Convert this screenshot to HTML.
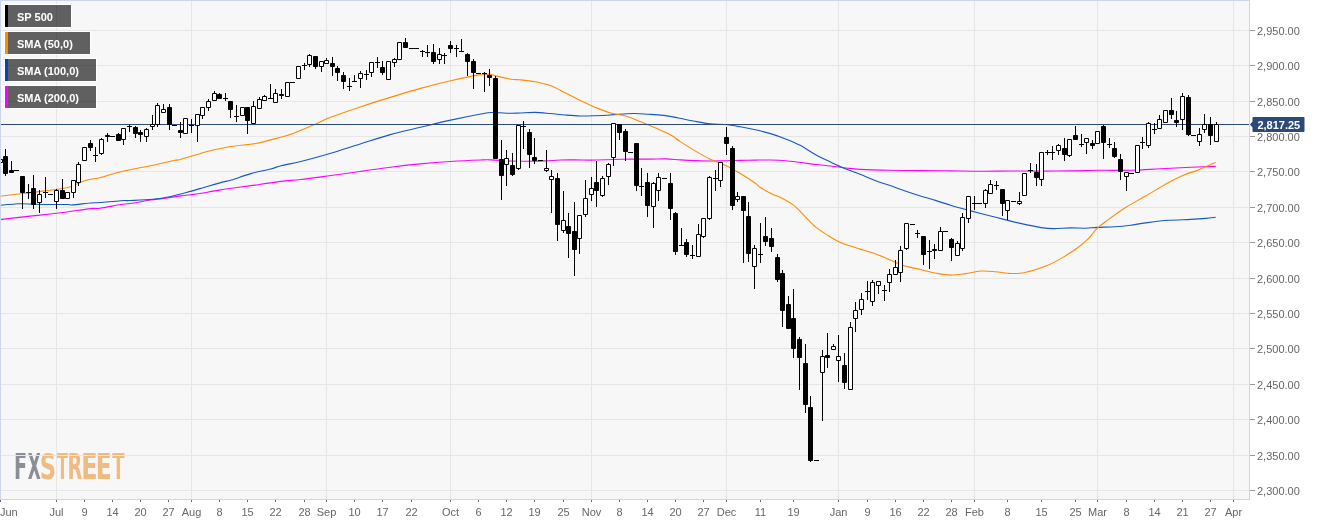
<!DOCTYPE html><html><head><meta charset="utf-8"><style>
html,body{margin:0;padding:0;background:#fff;width:1326px;height:525px;overflow:hidden}
svg{display:block;will-change:transform;font-family:"Liberation Sans",Arial,sans-serif}
</style></head><body>
<svg width="1326" height="525" viewBox="0 0 1326 525">
<rect x="0" y="0" width="1250" height="500" fill="#f7f7f7"/>
<g font-family="DejaVu Sans" font-stretch="condensed" font-weight="bold" font-size="35.5">
<text transform="translate(13.90 479.1) scale(0.600 1)" fill="#8b8e96">F</text>
<text transform="translate(27.72 479.1) scale(0.529 1)" fill="#8b8e96">X</text>
<text transform="translate(39.69 479.1) scale(0.710 1)" fill="#efbb80">S</text>
<text transform="translate(57.10 479.1) scale(0.499 1)" fill="#efbb80">T</text>
<text transform="translate(67.59 479.1) scale(0.602 1)" fill="#efbb80">R</text>
<text transform="translate(81.37 479.1) scale(0.749 1)" fill="#efbb80">E</text>
<text transform="translate(95.72 479.1) scale(0.731 1)" fill="#efbb80">E</text>
<text transform="translate(112.30 479.1) scale(0.563 1)" fill="#efbb80">T</text>
</g>
<path d="M0 490.5H1249M0 455.5H1249M0 419.5H1249M0 384.5H1249M0 348.5H1249M0 313.5H1249M0 278.5H1249M0 242.5H1249M0 207.5H1249M0 171.5H1249M0 136.5H1249M0 101.5H1249M0 65.5H1249M0 30.5H1249M56.5 0V499M191.5 0V499M326.5 0V499M450.5 0V499M591.5 0V499M726.5 0V499M838.5 0V499M974.5 0V499M1097.5 0V499M1233.5 0V499" stroke="#e6e6e6" stroke-width="1" fill="none"/>
<path d="M0.00 219.60 C5.03 219.02 20.15 217.23 30.20 216.10 C40.25 214.97 50.25 214.05 60.30 212.80 C70.35 211.55 83.88 209.35 90.50 208.60 C97.12 207.85 94.97 208.98 100.00 208.30 C105.03 207.62 115.67 205.30 120.70 204.50 C125.73 203.70 125.18 204.25 130.20 203.50 C135.22 202.75 145.78 200.77 150.80 200.00 C155.82 199.23 155.27 199.58 160.30 198.90 C165.33 198.22 175.97 196.60 181.00 195.90 C186.03 195.20 187.33 195.10 190.50 194.70 C193.67 194.30 194.97 194.30 200.00 193.50 C205.03 192.70 212.23 191.22 220.70 189.90 C229.17 188.58 240.75 187.02 250.80 185.60 C260.85 184.18 272.67 182.42 281.00 181.40 C289.33 180.38 292.47 180.48 300.80 179.50 C309.13 178.52 321.10 176.83 331.00 175.50 C340.90 174.17 350.32 172.88 360.20 171.50 C370.08 170.12 380.25 168.47 390.30 167.20 C400.35 165.93 410.43 164.85 420.50 163.90 C430.57 162.95 440.65 162.15 450.70 161.50 C460.75 160.85 474.02 160.27 480.80 160.00 C487.58 159.73 486.37 159.73 491.40 159.90 C496.43 160.07 504.53 160.78 511.00 161.00 C517.47 161.22 524.50 161.22 530.20 161.20 C535.90 161.18 540.18 161.10 545.20 160.90 C550.22 160.70 555.27 160.17 560.30 160.00 C565.33 159.83 570.37 159.88 575.40 159.90 C580.43 159.92 585.47 160.12 590.50 160.10 C595.53 160.08 600.57 159.95 605.60 159.80 C610.63 159.65 615.68 159.32 620.70 159.20 C625.72 159.08 630.68 159.12 635.70 159.10 C640.72 159.08 645.77 159.13 650.80 159.10 C655.83 159.07 660.95 158.77 665.90 158.90 C670.85 159.03 675.63 159.62 680.50 159.90 C685.37 160.18 690.15 160.42 695.10 160.60 C700.05 160.78 705.18 160.98 710.20 161.00 C715.22 161.02 720.18 160.80 725.20 160.70 C730.22 160.60 735.27 160.50 740.30 160.40 C745.33 160.30 750.37 160.17 755.40 160.10 C760.43 160.03 765.47 159.90 770.50 160.00 C775.53 160.10 780.57 160.28 785.60 160.70 C790.63 161.12 795.68 161.87 800.70 162.50 C805.72 163.13 810.68 163.92 815.70 164.50 C820.72 165.08 825.77 165.42 830.80 166.00 C835.83 166.58 841.03 167.43 845.90 168.00 C850.77 168.57 852.62 169.02 860.00 169.40 C867.38 169.78 880.15 170.10 890.20 170.30 C900.25 170.50 910.25 170.50 920.30 170.60 C930.35 170.70 940.43 170.78 950.50 170.90 C960.57 171.02 970.65 171.28 980.70 171.30 C990.75 171.32 1000.75 171.03 1010.80 171.00 C1020.85 170.97 1031.10 171.12 1041.00 171.10 C1050.90 171.08 1060.32 171.03 1070.20 170.90 C1080.08 170.77 1090.25 170.40 1100.30 170.30 C1110.35 170.20 1120.43 170.55 1130.50 170.30 C1140.57 170.05 1150.65 169.30 1160.70 168.80 C1170.75 168.30 1181.63 167.70 1190.80 167.30 C1199.97 166.90 1211.55 166.55 1215.70 166.40" stroke="#ff00ff" stroke-width="1.1" fill="none" stroke-linejoin="round"/>
<path d="M0.00 205.20 C2.52 205.00 11.33 204.25 15.10 204.00 C18.87 203.75 17.58 203.62 22.60 203.70 C27.62 203.78 37.65 204.37 45.20 204.50 C52.75 204.63 63.37 204.43 67.90 204.50 C72.43 204.57 68.63 205.15 72.40 204.90 C76.17 204.65 85.90 203.40 90.50 203.00 C95.10 202.60 94.97 202.88 100.00 202.50 C105.03 202.12 115.67 201.03 120.70 200.70 C125.73 200.37 124.85 200.73 130.20 200.50 C135.55 200.27 146.02 199.97 152.80 199.30 C159.58 198.63 164.62 197.82 170.90 196.50 C177.18 195.18 185.65 192.72 190.50 191.40 C195.35 190.08 194.97 190.07 200.00 188.60 C205.03 187.13 215.47 184.03 220.70 182.60 C225.93 181.17 226.38 181.50 231.40 180.00 C236.42 178.50 244.25 175.43 250.80 173.60 C257.35 171.77 265.67 170.32 270.70 169.00 C275.73 167.68 275.98 166.95 281.00 165.70 C286.02 164.45 292.63 163.53 300.80 161.50 C308.97 159.47 320.10 156.43 330.00 153.50 C339.90 150.57 350.15 147.05 360.20 143.90 C370.25 140.75 380.25 137.38 390.30 134.60 C400.35 131.82 410.43 129.62 420.50 127.20 C430.57 124.78 440.65 122.30 450.70 120.10 C460.75 117.90 474.02 115.27 480.80 114.00 C487.58 112.73 486.37 112.62 491.40 112.50 C496.43 112.38 506.23 113.22 511.00 113.30 C515.77 113.38 515.98 113.15 520.00 113.00 C524.02 112.85 530.07 112.32 535.10 112.40 C540.13 112.48 545.18 113.07 550.20 113.50 C555.22 113.93 560.18 114.58 565.20 115.00 C570.22 115.42 575.27 115.88 580.30 116.00 C585.33 116.12 590.37 115.87 595.40 115.70 C600.43 115.53 604.22 115.37 610.50 115.00 C616.78 114.63 626.82 113.63 633.10 113.50 C639.38 113.37 643.17 113.88 648.20 114.20 C653.23 114.52 658.27 114.77 663.30 115.40 C668.33 116.03 673.37 117.07 678.40 118.00 C683.43 118.93 688.20 120.03 693.50 121.00 C698.80 121.97 704.92 123.22 710.20 123.80 C715.48 124.38 720.18 124.00 725.20 124.50 C730.22 125.00 735.27 125.92 740.30 126.80 C745.33 127.68 750.37 128.67 755.40 129.80 C760.43 130.93 765.47 132.08 770.50 133.60 C775.53 135.12 780.57 136.90 785.60 138.90 C790.63 140.90 795.68 142.97 800.70 145.60 C805.72 148.23 810.68 151.93 815.70 154.70 C820.72 157.47 825.77 159.82 830.80 162.20 C835.83 164.58 841.03 166.98 845.90 169.00 C850.77 171.02 855.13 172.40 860.00 174.30 C864.87 176.20 870.07 178.52 875.10 180.40 C880.13 182.28 885.18 183.85 890.20 185.60 C895.22 187.35 900.18 189.18 905.20 190.90 C910.22 192.62 915.27 194.32 920.30 195.90 C925.33 197.48 930.37 198.85 935.40 200.40 C940.43 201.95 945.47 203.68 950.50 205.20 C955.53 206.72 960.57 208.12 965.60 209.50 C970.63 210.88 975.68 212.20 980.70 213.50 C985.72 214.80 990.68 216.03 995.70 217.30 C1000.72 218.57 1005.77 219.88 1010.80 221.10 C1015.83 222.32 1020.87 223.52 1025.90 224.60 C1030.93 225.68 1036.38 226.93 1041.00 227.60 C1045.62 228.27 1048.73 228.55 1053.60 228.60 C1058.47 228.65 1064.93 227.97 1070.20 227.90 C1075.47 227.83 1080.68 228.28 1085.20 228.20 C1089.72 228.12 1092.27 227.65 1097.30 227.40 C1102.33 227.15 1109.87 227.07 1115.40 226.70 C1120.93 226.33 1125.47 225.83 1130.50 225.20 C1135.53 224.57 1139.32 223.72 1145.60 222.90 C1151.88 222.08 1160.67 220.88 1168.20 220.30 C1175.73 219.72 1184.52 219.72 1190.80 219.40 C1197.08 219.08 1201.75 218.75 1205.90 218.40 C1210.05 218.05 1214.07 217.48 1215.70 217.30" stroke="#1558bf" stroke-width="1.1" fill="none" stroke-linejoin="round"/>
<path d="M0.00 196.20 C3.77 195.75 15.07 194.38 22.60 193.50 C30.13 192.62 37.65 191.90 45.20 190.90 C52.75 189.90 62.12 188.88 67.90 187.50 C73.68 186.12 76.13 183.97 79.90 182.60 C83.67 181.23 87.15 180.10 90.50 179.30 C93.85 178.50 94.97 179.05 100.00 177.80 C105.03 176.55 112.30 173.82 120.70 171.80 C129.10 169.78 141.35 167.63 150.40 165.70 C159.45 163.77 170.03 161.23 175.00 160.20 C179.97 159.17 174.32 161.08 180.20 159.50 C186.08 157.92 201.50 152.92 210.30 150.70 C219.10 148.48 225.45 147.40 233.00 146.20 C240.55 145.00 248.07 144.88 255.60 143.50 C263.13 142.12 271.92 139.58 278.20 137.90 C284.48 136.22 287.02 135.73 293.30 133.40 C299.58 131.07 309.78 126.55 315.90 123.90 C322.02 121.25 322.62 120.33 330.00 117.50 C337.38 114.67 350.15 110.25 360.20 106.90 C370.25 103.55 380.25 100.48 390.30 97.40 C400.35 94.32 410.43 91.17 420.50 88.40 C430.57 85.63 441.90 82.88 450.70 80.80 C459.50 78.72 468.28 76.90 473.30 75.90 C478.32 74.90 478.03 75.05 480.80 74.80 C483.57 74.55 487.38 74.22 489.90 74.40 C492.42 74.58 492.38 75.08 495.90 75.90 C499.42 76.72 506.98 78.65 511.00 79.30 C515.02 79.95 515.98 79.38 520.00 79.80 C524.02 80.22 530.07 80.83 535.10 81.80 C540.13 82.77 545.18 83.77 550.20 85.60 C555.22 87.43 560.18 90.30 565.20 92.80 C570.22 95.30 575.27 98.17 580.30 100.60 C585.33 103.03 590.37 105.33 595.40 107.40 C600.43 109.47 605.47 111.57 610.50 113.00 C615.53 114.43 620.57 114.53 625.60 116.00 C630.63 117.47 635.68 119.78 640.70 121.80 C645.72 123.82 650.68 125.90 655.70 128.10 C660.72 130.30 666.75 132.78 670.80 135.00 C674.85 137.22 675.95 138.75 680.00 141.40 C684.05 144.05 690.07 147.93 695.10 150.90 C700.13 153.87 705.18 156.82 710.20 159.20 C715.22 161.58 720.18 162.82 725.20 165.20 C730.22 167.58 735.27 170.48 740.30 173.50 C745.33 176.52 752.12 181.00 755.40 183.30 C758.68 185.60 757.22 185.52 760.00 187.30 C762.78 189.08 768.33 192.12 772.10 194.00 C775.87 195.88 778.83 196.58 782.60 198.60 C786.37 200.62 790.93 203.08 794.70 206.10 C798.47 209.12 801.68 213.18 805.20 216.70 C808.72 220.22 812.02 224.07 815.80 227.20 C819.58 230.33 823.88 232.98 827.90 235.50 C831.92 238.02 836.13 240.53 839.90 242.30 C843.67 244.07 847.15 244.97 850.50 246.10 C853.85 247.23 855.90 247.83 860.00 249.10 C864.10 250.37 870.07 251.88 875.10 253.70 C880.13 255.52 885.18 257.95 890.20 260.00 C895.22 262.05 900.18 264.42 905.20 266.00 C910.22 267.58 915.27 268.33 920.30 269.50 C925.33 270.67 930.37 272.07 935.40 273.00 C940.43 273.93 945.47 275.00 950.50 275.10 C955.53 275.20 960.57 274.28 965.60 273.60 C970.63 272.92 975.68 271.30 980.70 271.00 C985.72 270.70 991.18 271.42 995.70 271.80 C1000.22 272.18 1003.77 273.05 1007.80 273.30 C1011.83 273.55 1015.62 273.82 1019.90 273.30 C1024.18 272.78 1028.73 271.58 1033.50 270.20 C1038.27 268.82 1043.65 267.10 1048.50 265.00 C1053.35 262.90 1057.73 260.47 1062.60 257.60 C1067.47 254.73 1073.42 250.95 1077.70 247.80 C1081.98 244.65 1085.03 241.97 1088.30 238.70 C1091.57 235.43 1094.03 231.33 1097.30 228.20 C1100.57 225.07 1103.12 223.38 1107.90 219.90 C1112.68 216.42 1119.72 211.28 1126.00 207.30 C1132.28 203.32 1138.57 200.10 1145.60 196.00 C1152.63 191.90 1161.92 186.17 1168.20 182.70 C1174.48 179.23 1178.27 177.33 1183.30 175.20 C1188.33 173.07 1193.00 172.03 1198.40 169.90 C1203.80 167.77 1212.82 163.65 1215.70 162.40" stroke="#ff8c00" stroke-width="1.1" fill="none" stroke-linejoin="round"/>
<path d="M0 124.5H1249" stroke="#2c4a75" stroke-width="1"/>
<path d="M0.5 154V159.5M0.5 162.5V169M5.5 149V156.5M5.5 173.5V176M11.5 161V170.5M14 170.5H19M22.5 192.5V209M26 192.5H31M28.5 184.0V199.0M33.5 175V188.5M33.5 204.5V209M39.5 190V194.5M39.5 202.5V213M43 192.5H48M45.5 177.0V198.0M48 194.5H53M56.5 189V190.5M56.5 201.5V209M62.5 179V190.5M73.5 192.5V198M78.5 162V164.5M78.5 182.5V186M90.5 140V143.5M90.5 147.5V151M93 155.5H98M95.5 147.0V162.0M101.5 138V139.5M101.5 153.5V155M107.5 133V135.5M107.5 136.5V142M110 136.5H115M118.5 133V134.5M123.5 139.5V145M127 126.5H132M129.5 125.0V132.0M135.5 126V127.5M135.5 133.5V138M140.5 130V132.5M140.5 134.5V142M146.5 128V129.5M146.5 136.5V142M152.5 115V124.5M152.5 126.5V130M157.5 103V105.5M157.5 124.5V127M163.5 104V109.5M169.5 104V107.5M169.5 124.5V130M172 125.5H177M180.5 122V130.5M180.5 132.5V138M189 125.5H194M191.5 119.0V133.0M197.5 125.5V142M202.5 115.5V119M208.5 99V101.5M208.5 107.5V111M214.5 91V93.5M219.5 93V94.5M223 98.5H228M225.5 93.0V101.0M230.5 109.5V118M234 116.5H239M236.5 105.0V122.0M247.5 120.5V134M253.5 101V106.5M259.5 97V99.5M264.5 95V96.5M268 98.5H273M270.5 84.0V99.0M275.5 89V93.5M281.5 89V94.5M281.5 95.5V99M290 82.5H295M302 65.5H307M304.5 63.0V70.0M309.5 54V55.5M309.5 64.5V67M315.5 66.5V69M321.5 66.5V72M326.5 58V60.5M332.5 57V63.5M332.5 66.5V76M337.5 66V68.5M337.5 72.5V81M343.5 72V75.5M343.5 81.5V89M347 86.5H352M349.5 78.0V91.0M352 81.5H357M354.5 75.0V82.0M360.5 71V73.5M360.5 78.5V88M364 74.5H369M366.5 70.0V80.0M371.5 72.5V77M375 62.5H380M377.5 57.0V68.0M382.5 61V67.5M382.5 72.5V75M394.5 58V59.5M394.5 62.5V67M405.5 38V42.5M409 48.5H414M414 48.5H419M420 51.5H425M422.5 50.0V57.0M425 52.5H430M427.5 45.0V57.0M433.5 44V52.5M433.5 61.5V64M439.5 48V54.5M439.5 59.5V64M442 55.5H447M444.5 53.0V64.0M450.5 41V45.5M450.5 48.5V53M454 48.5H459M456.5 45.0V57.0M459 51.5H464M461.5 39.0V52.0M467.5 53V54.5M467.5 61.5V76M473.5 59V61.5M473.5 72.5V89M476 73.5H481M482 73.5H487M484.5 72.0V92.0M489.5 69V75.5M489.5 77.5V86M495.5 76V78.5M501.5 140V159.5M501.5 175.5V200M506.5 150V158.5M506.5 164.5V186M512.5 153V165.5M512.5 174.5V176M518.5 168.5V170M521 126.5H526M523.5 121.0V149.0M529.5 129V132.5M529.5 154.5V168M534.5 138V157.5M534.5 160.5V164M538 160.5H543M546.5 150V168.5M546.5 170.5V172M551.5 170V176.5M551.5 179.5V213M557.5 173V178.5M557.5 224.5V241M563.5 191V220.5M563.5 230.5V233M568.5 213V226.5M568.5 233.5V258M574.5 202V231.5M574.5 249.5V276M579.5 238.5V254M585.5 180V198.5M585.5 214.5V217M591.5 177V188.5M591.5 194.5V201M596.5 161V182.5M596.5 190.5V207M602.5 176V178.5M602.5 195.5V197M608.5 163V164.5M608.5 176.5V185M613.5 157.5V166M619.5 132.5V140M625.5 129V131.5M625.5 151.5V161M628 152.5H633M636.5 185.5V191M639 186.5H644M641.5 168.0V196.0M647.5 173V182.5M647.5 205.5V217M653.5 182V183.5M653.5 206.5V228M658.5 173V177.5M658.5 190.5V201M662 178.5H667M670.5 173V183.5M670.5 208.5V220M675.5 212V213.5M675.5 251.5V255M679 245.5H684M681.5 228.0V246.0M686.5 239V242.5M686.5 254.5V257M690 255.5H695M692.5 245.0V259.0M698.5 224V234.5M703.5 236.5V238M709.5 176V177.5M709.5 218.5V220M713 178.5H718M715.5 170.0V191.0M720.5 180.5V187M726.5 127V137.5M726.5 143.5V155M732.5 146V148.5M732.5 205.5V210M737.5 192V196.5M737.5 199.5V202M743.5 210.5V263M748.5 202V216.5M748.5 253.5V262M754.5 245V248.5M754.5 266.5V289M758 254.5H763M760.5 223.0V263.0M765.5 217V236.5M765.5 241.5V246M771.5 228V238.5M771.5 246.5V252M777.5 254V257.5M777.5 279.5V282M782.5 270V273.5M782.5 310.5V327M788.5 296V304.5M793.5 289V318.5M793.5 348.5V358M799.5 337V339.5M799.5 357.5V390M805.5 344V363.5M805.5 404.5V413M810.5 396V407.5M810.5 460.5V462M814 460.5H819M822.5 350V356.5M822.5 372.5V421M827.5 333V355.5M827.5 357.5V368M833.5 344V346.5M838.5 335V356.5M838.5 360.5V382M844.5 353V365.5M844.5 382.5V389M850.5 322V327.5M855.5 302V310.5M855.5 318.5V332M861.5 293V299.5M861.5 309.5V315M865 291.5H870M867.5 281.0V300.0M872.5 280V282.5M872.5 301.5V306M878.5 285.5V294M882 290.5H887M884.5 285.0V301.0M889.5 269V274.5M889.5 282.5V292M895.5 260V267.5M900.5 246V250.5M900.5 272.5V282M906.5 248.5V250M910 224.5H915M915 233.5H920M917.5 230.0V238.0M923.5 254.5V265M927 251.5H932M929.5 240.0V269.0M934.5 244V249.5M934.5 250.5V259M940.5 227V231.5M943 231.5H948M951.5 238V239.5M951.5 247.5V261M957.5 241V243.5M962.5 213V217.5M962.5 248.5V251M968.5 218.5V223M972 203.5H977M974.5 196.0V210.0M977 203.5H982M985.5 189V190.5M985.5 203.5V208M990.5 180V184.5M994 185.5H999M996.5 181.0V190.0M1002.5 203.5V216M1007.5 210.5V220M1011 201.5H1016M1019.5 192V201.5M1019.5 203.5V205M1028 170.5H1033M1030.5 163.0V173.0M1036.5 164V172.5M1036.5 177.5V186M1041.5 179.5V186M1045 152.5H1050M1047.5 150.0V155.0M1050 152.5H1055M1052.5 146.0V160.0M1058.5 144V145.5M1058.5 150.5V155M1064.5 138V148.5M1064.5 154.5V161M1069.5 155.5V157M1075.5 126V135.5M1079 144.5H1084M1081.5 134.0V147.0M1086.5 142.5V154M1092.5 140V143.5M1092.5 145.5V149M1103.5 125V126.5M1103.5 142.5V159M1107 144.5H1112M1109.5 138.0V148.0M1114.5 142V148.5M1114.5 156.5V158M1120.5 154V159.5M1120.5 171.5V180M1126.5 176.5V191M1129 173.5H1134M1140 142.5H1145M1142.5 137.0V149.0M1148.5 122V123.5M1148.5 145.5V148M1152 129.5H1157M1154.5 123.0V134.0M1159.5 115V119.5M1171.5 98V110.5M1171.5 114.5V119M1176.5 111V120.5M1176.5 122.5V127M1182.5 93V96.5M1182.5 119.5V130M1188.5 95V97.5M1188.5 134.5V136M1191 135.5H1196M1199.5 128V134.5M1199.5 141.5V146M1204.5 114V124.5M1204.5 129.5V133M1210.5 117V124.5M1210.5 135.5V145M1216.5 122V124.5" stroke="#000" stroke-width="1" fill="none"/>
<path d="M-1.5 159.5H2.5V162.5H-1.5ZM37.5 194.5H41.5V202.5H37.5ZM54.5 190.5H58.5V201.5H54.5ZM65.5 192.5H69.5V198.5H65.5ZM71.5 180.5H75.5V192.5H71.5ZM76.5 164.5H80.5V182.5H76.5ZM82.5 147.5H86.5V160.5H82.5ZM99.5 139.5H103.5V153.5H99.5ZM121.5 128.5H125.5V139.5H121.5ZM144.5 129.5H148.5V136.5H144.5ZM150.5 124.5H154.5V126.5H150.5ZM155.5 105.5H159.5V124.5H155.5ZM161.5 109.5H165.5V112.5H161.5ZM183.5 118.5H187.5V133.5H183.5ZM195.5 114.5H199.5V125.5H195.5ZM200.5 107.5H204.5V115.5H200.5ZM206.5 101.5H210.5V107.5H206.5ZM212.5 93.5H216.5V100.5H212.5ZM240.5 107.5H244.5V115.5H240.5ZM251.5 106.5H255.5V123.5H251.5ZM257.5 99.5H261.5V108.5H257.5ZM262.5 96.5H266.5V100.5H262.5ZM273.5 93.5H277.5V102.5H273.5ZM285.5 82.5H289.5V96.5H285.5ZM296.5 66.5H300.5V78.5H296.5ZM307.5 55.5H311.5V64.5H307.5ZM319.5 61.5H323.5V66.5H319.5ZM324.5 60.5H328.5V63.5H324.5ZM358.5 73.5H362.5V78.5H358.5ZM369.5 62.5H373.5V72.5H369.5ZM386.5 61.5H390.5V79.5H386.5ZM392.5 59.5H396.5V62.5H392.5ZM397.5 42.5H401.5V59.5H397.5ZM437.5 54.5H441.5V59.5H437.5ZM504.5 158.5H508.5V164.5H504.5ZM516.5 125.5H520.5V168.5H516.5ZM544.5 168.5H548.5V170.5H544.5ZM549.5 176.5H553.5V179.5H549.5ZM561.5 220.5H565.5V230.5H561.5ZM577.5 215.5H581.5V238.5H577.5ZM583.5 198.5H587.5V214.5H583.5ZM589.5 188.5H593.5V194.5H589.5ZM600.5 178.5H604.5V195.5H600.5ZM606.5 164.5H610.5V176.5H606.5ZM611.5 123.5H615.5V157.5H611.5ZM651.5 183.5H655.5V206.5H651.5ZM656.5 177.5H660.5V190.5H656.5ZM696.5 234.5H700.5V256.5H696.5ZM701.5 218.5H705.5V236.5H701.5ZM707.5 177.5H711.5V218.5H707.5ZM718.5 162.5H722.5V180.5H718.5ZM735.5 196.5H739.5V199.5H735.5ZM752.5 248.5H756.5V266.5H752.5ZM820.5 356.5H824.5V372.5H820.5ZM831.5 346.5H835.5V349.5H831.5ZM836.5 356.5H840.5V360.5H836.5ZM848.5 327.5H852.5V389.5H848.5ZM853.5 310.5H857.5V318.5H853.5ZM859.5 299.5H863.5V309.5H859.5ZM870.5 282.5H874.5V301.5H870.5ZM876.5 281.5H880.5V285.5H876.5ZM887.5 274.5H891.5V282.5H887.5ZM893.5 267.5H897.5V274.5H893.5ZM898.5 250.5H902.5V272.5H898.5ZM904.5 223.5H908.5V248.5H904.5ZM938.5 231.5H942.5V250.5H938.5ZM955.5 243.5H959.5V255.5H955.5ZM960.5 217.5H964.5V248.5H960.5ZM966.5 196.5H970.5V218.5H966.5ZM983.5 190.5H987.5V203.5H983.5ZM988.5 184.5H992.5V193.5H988.5ZM1005.5 200.5H1009.5V210.5H1005.5ZM1017.5 201.5H1021.5V203.5H1017.5ZM1022.5 173.5H1026.5V195.5H1022.5ZM1039.5 152.5H1043.5V179.5H1039.5ZM1056.5 145.5H1060.5V150.5H1056.5ZM1067.5 139.5H1071.5V155.5H1067.5ZM1084.5 138.5H1088.5V142.5H1084.5ZM1095.5 131.5H1099.5V143.5H1095.5ZM1124.5 172.5H1128.5V176.5H1124.5ZM1135.5 145.5H1139.5V172.5H1135.5ZM1146.5 123.5H1150.5V145.5H1146.5ZM1157.5 119.5H1161.5V128.5H1157.5ZM1163.5 110.5H1167.5V122.5H1163.5ZM1180.5 96.5H1184.5V119.5H1180.5ZM1197.5 134.5H1201.5V141.5H1197.5ZM1202.5 124.5H1206.5V129.5H1202.5ZM1214.5 124.5H1218.5V141.5H1214.5Z" stroke="#000" stroke-width="1" fill="#fff"/>
<path d="M3.5 156.5H7.5V173.5H3.5ZM9.5 170.5H13.5V172.5H9.5ZM20.5 176.5H24.5V192.5H20.5ZM31.5 188.5H35.5V204.5H31.5ZM60.5 190.5H64.5V198.5H60.5ZM88.5 143.5H92.5V147.5H88.5ZM105.5 135.5H109.5V136.5H105.5ZM116.5 134.5H120.5V140.5H116.5ZM133.5 127.5H137.5V133.5H133.5ZM138.5 132.5H142.5V134.5H138.5ZM167.5 107.5H171.5V124.5H167.5ZM178.5 130.5H182.5V132.5H178.5ZM217.5 94.5H221.5V98.5H217.5ZM228.5 101.5H232.5V109.5H228.5ZM245.5 107.5H249.5V120.5H245.5ZM279.5 94.5H283.5V95.5H279.5ZM313.5 56.5H317.5V66.5H313.5ZM330.5 63.5H334.5V66.5H330.5ZM335.5 68.5H339.5V72.5H335.5ZM341.5 75.5H345.5V81.5H341.5ZM380.5 67.5H384.5V72.5H380.5ZM403.5 42.5H407.5V47.5H403.5ZM431.5 52.5H435.5V61.5H431.5ZM448.5 45.5H452.5V48.5H448.5ZM465.5 54.5H469.5V61.5H465.5ZM471.5 61.5H475.5V72.5H471.5ZM487.5 75.5H491.5V77.5H487.5ZM493.5 78.5H497.5V158.5H493.5ZM499.5 159.5H503.5V175.5H499.5ZM510.5 165.5H514.5V174.5H510.5ZM527.5 132.5H531.5V154.5H527.5ZM532.5 157.5H536.5V160.5H532.5ZM555.5 178.5H559.5V224.5H555.5ZM566.5 226.5H570.5V233.5H566.5ZM572.5 231.5H576.5V249.5H572.5ZM594.5 182.5H598.5V190.5H594.5ZM617.5 124.5H621.5V132.5H617.5ZM623.5 131.5H627.5V151.5H623.5ZM634.5 143.5H638.5V185.5H634.5ZM645.5 182.5H649.5V205.5H645.5ZM668.5 183.5H672.5V208.5H668.5ZM673.5 213.5H677.5V251.5H673.5ZM684.5 242.5H688.5V254.5H684.5ZM724.5 137.5H728.5V143.5H724.5ZM730.5 148.5H734.5V205.5H730.5ZM741.5 196.5H745.5V210.5H741.5ZM746.5 216.5H750.5V253.5H746.5ZM763.5 236.5H767.5V241.5H763.5ZM769.5 238.5H773.5V246.5H769.5ZM775.5 257.5H779.5V279.5H775.5ZM780.5 273.5H784.5V310.5H780.5ZM786.5 304.5H790.5V328.5H786.5ZM791.5 318.5H795.5V348.5H791.5ZM797.5 339.5H801.5V357.5H797.5ZM803.5 363.5H807.5V404.5H803.5ZM808.5 407.5H812.5V460.5H808.5ZM825.5 355.5H829.5V357.5H825.5ZM842.5 365.5H846.5V382.5H842.5ZM921.5 236.5H925.5V254.5H921.5ZM932.5 249.5H936.5V250.5H932.5ZM949.5 239.5H953.5V247.5H949.5ZM1000.5 189.5H1004.5V203.5H1000.5ZM1034.5 172.5H1038.5V177.5H1034.5ZM1062.5 148.5H1066.5V154.5H1062.5ZM1073.5 135.5H1077.5V139.5H1073.5ZM1090.5 143.5H1094.5V145.5H1090.5ZM1101.5 126.5H1105.5V142.5H1101.5ZM1112.5 148.5H1116.5V156.5H1112.5ZM1118.5 159.5H1122.5V171.5H1118.5ZM1169.5 110.5H1173.5V114.5H1169.5ZM1174.5 120.5H1178.5V122.5H1174.5ZM1186.5 97.5H1190.5V134.5H1186.5ZM1208.5 124.5H1212.5V135.5H1208.5Z" stroke="#000" stroke-width="1" fill="#000"/>
<rect x="0.5" y="0.5" width="1249" height="499" fill="none" stroke="#ccd6eb" stroke-width="1"/>
<path d="M1250 490.5H1255M1250 455.5H1255M1250 419.5H1255M1250 384.5H1255M1250 348.5H1255M1250 313.5H1255M1250 278.5H1255M1250 242.5H1255M1250 207.5H1255M1250 171.5H1255M1250 136.5H1255M1250 101.5H1255M1250 65.5H1255M1250 30.5H1255" stroke="#999" stroke-width="1"/>
<g font-size="11" fill="#666"><text x="1257" y="495.0">2,300.00</text><text x="1257" y="460.0">2,350.00</text><text x="1257" y="424.0">2,400.00</text><text x="1257" y="389.0">2,450.00</text><text x="1257" y="353.0">2,500.00</text><text x="1257" y="318.0">2,550.00</text><text x="1257" y="283.0">2,600.00</text><text x="1257" y="247.0">2,650.00</text><text x="1257" y="212.0">2,700.00</text><text x="1257" y="176.0">2,750.00</text><text x="1257" y="141.0">2,800.00</text><text x="1257" y="106.0">2,850.00</text><text x="1257" y="70.0">2,900.00</text><text x="1257" y="35.0">2,950.00</text></g>
<path d="M0.5 500V502M56.5 500V502M84.5 500V502M112.5 500V502M140.5 500V502M168.5 500V502M191.5 500V502M219.5 500V502M247.5 500V502M275.5 500V502M304.5 500V502M326.5 500V502M354.5 500V502M382.5 500V502M411.5 500V502M450.5 500V502M478.5 500V502M506.5 500V502M534.5 500V502M563.5 500V502M591.5 500V502M619.5 500V502M647.5 500V502M675.5 500V502M703.5 500V502M726.5 500V502M760.5 500V502M793.5 500V502M838.5 500V502M867.5 500V502M895.5 500V502M923.5 500V502M951.5 500V502M974.5 500V502M1007.5 500V502M1041.5 500V502M1075.5 500V502M1097.5 500V502M1126.5 500V502M1154.5 500V502M1182.5 500V502M1210.5 500V502M1233.5 500V502" stroke="#666" stroke-width="1"/>
<g font-size="11" fill="#666" text-anchor="middle"><text x="0" y="516" text-anchor="start">Jun</text><text x="56.5" y="516">Jul</text><text x="84.5" y="516">9</text><text x="112.5" y="516">14</text><text x="140.5" y="516">20</text><text x="168.5" y="516">27</text><text x="191.5" y="516">Aug</text><text x="219.5" y="516">8</text><text x="247.5" y="516">15</text><text x="275.5" y="516">22</text><text x="304.5" y="516">28</text><text x="326.5" y="516">Sep</text><text x="354.5" y="516">10</text><text x="382.5" y="516">17</text><text x="411.5" y="516">22</text><text x="450.5" y="516">Oct</text><text x="478.5" y="516">6</text><text x="506.5" y="516">12</text><text x="534.5" y="516">19</text><text x="563.5" y="516">25</text><text x="591.5" y="516">Nov</text><text x="619.5" y="516">8</text><text x="647.5" y="516">14</text><text x="675.5" y="516">20</text><text x="703.5" y="516">27</text><text x="726.5" y="516">Dec</text><text x="760.5" y="516">11</text><text x="793.5" y="516">19</text><text x="838.5" y="516">Jan</text><text x="867.5" y="516">9</text><text x="895.5" y="516">16</text><text x="923.5" y="516">22</text><text x="951.5" y="516">28</text><text x="974.5" y="516">Feb</text><text x="1007.5" y="516">8</text><text x="1041.5" y="516">15</text><text x="1075.5" y="516">25</text><text x="1097.5" y="516">Mar</text><text x="1126.5" y="516">8</text><text x="1154.5" y="516">14</text><text x="1182.5" y="516">21</text><text x="1210.5" y="516">27</text><text x="1233.5" y="516">Apr</text></g>
<path d="M1250 124.5L1252.5 121.5V118Q1252.5 117 1253.5 117H1303.5Q1304.5 117 1304.5 118V131Q1304.5 132 1303.5 132H1253.5Q1252.5 132 1252.5 131V127.5Z" fill="#2c4a75"/>
<text x="1278.8" y="128.5" font-size="11" font-weight="bold" fill="#fff" text-anchor="middle">2,817.25</text>
<rect x="4.5" y="4.5" width="67" height="23" fill="none" stroke="#fff" stroke-width="1"/>
<rect x="5" y="5" width="66" height="22" fill="rgba(0,0,0,0.61)"/>
<rect x="5" y="5" width="3" height="22" fill="#000"/>
<text x="17" y="21" font-size="11" font-weight="bold" fill="#fff">SP 500</text>
<rect x="4.5" y="31.5" width="86" height="23" fill="none" stroke="#fff" stroke-width="1"/>
<rect x="5" y="32" width="85" height="22" fill="rgba(0,0,0,0.61)"/>
<rect x="5" y="32" width="3" height="22" fill="#ff8c00"/>
<text x="17" y="48" font-size="11" font-weight="bold" fill="#fff">SMA (50,0)</text>
<rect x="4.5" y="58.5" width="92" height="23" fill="none" stroke="#fff" stroke-width="1"/>
<rect x="5" y="59" width="91" height="22" fill="rgba(0,0,0,0.61)"/>
<rect x="5" y="59" width="3" height="22" fill="#0047b3"/>
<text x="17" y="75" font-size="11" font-weight="bold" fill="#fff">SMA (100,0)</text>
<rect x="4.5" y="85.5" width="92" height="23" fill="none" stroke="#fff" stroke-width="1"/>
<rect x="5" y="86" width="91" height="22" fill="rgba(0,0,0,0.61)"/>
<rect x="5" y="86" width="3" height="22" fill="#ff00ff"/>
<text x="17" y="102" font-size="11" font-weight="bold" fill="#fff">SMA (200,0)</text>
</svg></body></html>
